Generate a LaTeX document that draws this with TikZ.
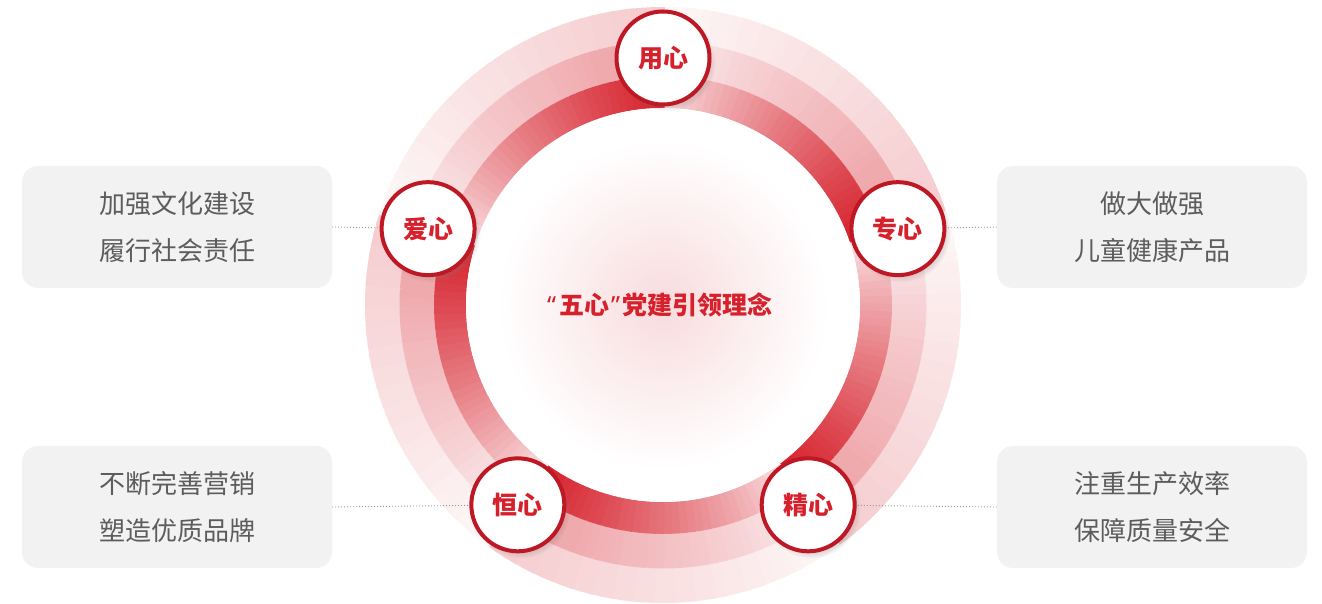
\documentclass[tikz,border=0pt]{standalone}
\usepackage{fontspec}
\newfontfamily\cjk{Noto Sans CJK SC}
\newfontfamily\quotefont{Noto Sans}
\usetikzlibrary{shadows,fadings}
\definecolor{ringred}{HTML}{D6202B}
\definecolor{rimred}{HTML}{BE1824}
\definecolor{boxgray}{HTML}{F2F2F2}
\definecolor{txtgray}{HTML}{5C5C5C}

\begin{document}
\begin{tikzpicture}[x=1pt,y=1pt,
  xin/.style={circle, draw=rimred, line width=4pt, fill=white, minimum size=93pt, inner sep=0pt,
    text=ringred, font=\cjk\bfseries\fontsize{25}{25}\selectfont,
    circular drop shadow={shadow xshift=3pt, shadow yshift=-4pt, shadow scale=1.06, opacity=0.3}},
  infobox/.style={rectangle, rounded corners=16pt, fill=boxgray, minimum width=310pt, minimum height=122pt,
    align=center, text=txtgray, font=\cjk\fontsize{26}{47}\selectfont},
  link/.style={draw=black!40, line width=0.9pt, dash pattern=on 1pt off 2pt}]
  \useasboundingbox[fill=white] (0,0) rectangle (1322,604);
  \coordinate (ctr) at (663,299);

  % three rings, each piece fading from light to dark clockwise
  \foreach \k in {0,...,4}{
    \foreach \i in {0,...,35}{
      \pgfmathsetmacro\sa{90-72*\k-2*\i+0.4}
      \pgfmathsetmacro\ea{90-72*\k-2*\i-2.4}
      \pgfmathsetmacro\rt{(\i/35)^0.8}
      \pgfmathtruncatemacro\tout{3+20*\rt}
      \pgfmathtruncatemacro\tmid{8+36*\rt}
      \pgfmathtruncatemacro\tin{12+88*\rt}
      \draw[ringred!\tout!white, line width=36pt] (ctr) ++(\sa:280pt) arc[start angle=\sa, end angle=\ea, radius=280pt];
      \draw[ringred!\tmid!white, line width=35pt] (ctr) ++(\sa:246pt) arc[start angle=\sa, end angle=\ea, radius=246pt];
      \draw[ringred!\tin!white, line width=32pt] (ctr) ++(\sa:213pt) arc[start angle=\sa, end angle=\ea, radius=213pt];
    }
  }
  \fill[white] (ctr) circle[radius=197pt];
  \shade[inner color=ringred!16!white, outer color=white] (ctr) circle[radius=165pt];

  \node[text=ringred, font=\cjk\bfseries\fontsize{25}{25}\selectfont] (idea) at (660,299)
    {{\quotefont\bfseries“}\kern3pt 五心\kern2pt{\quotefont\bfseries”}\kern3pt 党建引领理念};

  % the five hearts
  \node[xin] (yongxin) at ([shift={(90:247)}]ctr) {用心};
  \node[xin] (zhuanxin) at ([shift={(18:247)}]ctr) {专心};
  \node[xin] (jingxin) at ([shift={(-54:247)}]ctr) {精心};
  \node[xin] (hengxin) at ([shift={(234:247)}]ctr) {恒心};
  \node[xin] (aixin) at ([shift={(162:247)}]ctr) {爱心};

  % side boxes
  \node[infobox] (wenhua) at (177,377) {加强文化建设\\履行社会责任};
  \node[infobox] (yingxiao) at (177,97) {不断完善营销\\塑造优质品牌};
  \node[infobox] (chanpin) at (1152,377) {做大做强\\儿童健康产品};
  \node[infobox] (anquan) at (1152,97) {注重生产效率\\保障质量安全};

  \draw[link] (wenhua.east) -- (aixin);
  \draw[link] (yingxiao.east) -- (hengxin);
  \draw[link] (chanpin.west) -- (zhuanxin);
  \draw[link] (anquan.west) -- (jingxin);
\end{tikzpicture}
\end{document}
